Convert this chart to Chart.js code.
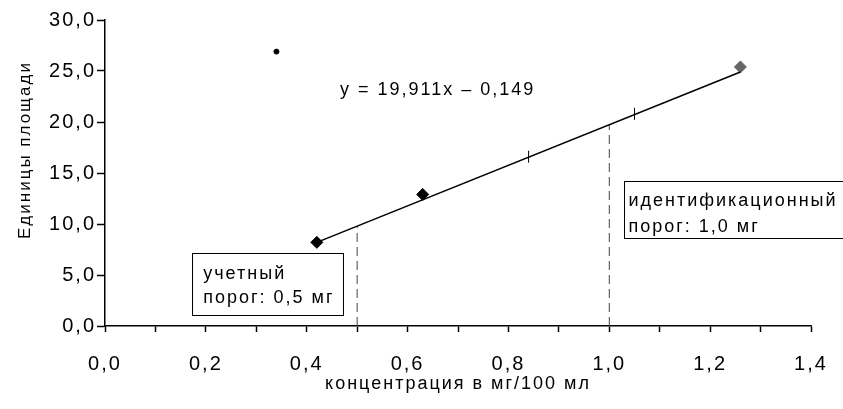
<!DOCTYPE html>
<html>
<head>
<meta charset="utf-8">
<script src="https://cdn.jsdelivr.net/npm/chart.js@4"></script>
<style>
  html, body { margin: 0; padding: 0; background: #fff; }
  #wrap { width: 843px; height: 409px; }
</style>
</head>
<body>
<div id="wrap"><canvas id="calibChart"></canvas></div>
<script>
// Данные калибровки
const pointsX = [0.42, 0.63, 1.26];
const pointsY = [8.2, 12.9, 25.4];
const pointColors = ['#000000', '#000000', '#666666'];

const outlierX = [0.34];
const outlierY = [26.9];

// концы линии тренда
const trendX = [0.42, 1.26];
const trendY = [8.2, 24.9];

// штрихи на линии тренда
const markX = [0.84, 1.05];
const markY = [16.6, 20.8];

// пороги (пунктир)
const thresholdX = [0.5, 1.0];
const thresholdY = [9.8, 19.7];

const yTicks = [0, 5, 10, 15, 20, 25, 30];

const equationText = 'y = 19,911x – 0,149';
const note1 = ['учетный', 'порог: 0,5 мг'];
const note2 = ['идентификационный', 'порог: 1,0 мг'];
const yTitle = 'Единицы площади';
const xTitle = 'концентрация в мг/100 мл';

const FONT = "'Liberation Sans', Arial, sans-serif";
const SPACING = '2px';

function toPoints(xs, ys) {
    return xs.map((x, i) => ({ x: x, y: ys[i] }));
}

function fmt(v) {
    return v.toFixed(1).replace('.', ',');
}

// разрядка текста как на скане
const spacingPlugin = {
    id: 'spacing',
    beforeUpdate(chart) { chart.ctx.letterSpacing = SPACING; },
    beforeLayout(chart) { chart.ctx.letterSpacing = SPACING; },
    beforeDraw(chart) { chart.ctx.letterSpacing = SPACING; }
};

// подписи и рамки
const notesPlugin = {
    id: 'notes',
    afterDatasetsDraw(chart) {
        const ctx = chart.ctx;
        const xs = chart.scales.x;
        const ys = chart.scales.y;
        ctx.save();
        ctx.letterSpacing = SPACING;
        ctx.fillStyle = '#000';
        ctx.strokeStyle = '#000';
        ctx.lineWidth = 1;
        ctx.textBaseline = 'middle';
        ctx.textAlign = 'left';

        // уравнение
        ctx.font = '18px ' + FONT;
        ctx.fillText(equationText, xs.getPixelForValue(0.466), ys.getPixelForValue(23.1));

        // рамка 1
        let l = xs.getPixelForValue(0.173), t = ys.getPixelForValue(7.16);
        let r = xs.getPixelForValue(0.472), b = ys.getPixelForValue(1.08);
        ctx.fillStyle = '#fff';
        ctx.fillRect(l, t, r - l, b - t);
        ctx.strokeRect(Math.round(l) + 0.5, Math.round(t) + 0.5, Math.round(r - l), Math.round(b - t));
        ctx.fillStyle = '#000';
        ctx.font = '18px ' + FONT;
        ctx.fillText(note1[0], l + 11, t + 21);
        ctx.fillText(note1[1], l + 11, t + 45);

        // рамка 2
        l = xs.getPixelForValue(1.03); t = ys.getPixelForValue(14.2);
        b = ys.getPixelForValue(8.6);
        r = chart.width + 20;
        ctx.fillStyle = '#fff';
        ctx.fillRect(l, t, r - l, b - t);
        ctx.strokeRect(Math.round(l) + 0.5, Math.round(t) + 0.5, Math.round(r - l), Math.round(b - t));
        ctx.fillStyle = '#000';
        ctx.font = '18px ' + FONT;
        ctx.fillText(note2[0], l + 4, t + 20);
        ctx.fillText(note2[1], l + 4, t + 46);

        // подпись оси Y
        ctx.font = '17px ' + FONT;
        ctx.translate(25, 150);
        ctx.rotate(-Math.PI / 2);
        ctx.textAlign = 'center';
        ctx.fillText(yTitle, 0, 0);
        ctx.restore();
    }
};

const ctx = document.getElementById('calibChart').getContext('2d');

const datasets = [
    {
        label: 'тренд',
        data: toPoints(trendX, trendY),
        showLine: true,
        borderColor: '#000',
        borderWidth: 1.5,
        pointRadius: 0
    },
    {
        label: 'штрихи',
        data: toPoints(markX, markY),
        showLine: false,
        pointStyle: 'line',
        rotation: 90,
        pointRadius: 6,
        borderColor: '#000',
        borderWidth: 1
    },
    {
        label: 'измерения',
        data: toPoints(pointsX, pointsY),
        showLine: false,
        pointStyle: 'rectRot',
        pointRadius: 6,
        pointBackgroundColor: pointColors,
        pointBorderColor: pointColors,
        borderWidth: 1
    },
    {
        label: 'выброс',
        data: toPoints(outlierX, outlierY),
        showLine: false,
        pointStyle: 'circle',
        pointRadius: 2.5,
        pointBackgroundColor: '#000',
        pointBorderColor: '#000'
    }
];

thresholdX.forEach((x, i) => {
    datasets.push({
        label: 'порог ' + x,
        data: [{ x: x, y: 0 }, { x: x, y: thresholdY[i] }],
        showLine: true,
        borderColor: '#444',
        borderWidth: 1,
        borderDash: [9, 5],
        pointRadius: 0
    });
});

new Chart(ctx, {
    type: 'scatter',
    data: { datasets: datasets },
    options: {
        responsive: true,
        maintainAspectRatio: false,
        animation: false,
        layout: {
            padding: { left: 0, right: 32, top: 20, bottom: 0 }
        },
        plugins: {
            legend: { display: false },
            tooltip: { enabled: false }
        },
        scales: {
            x: {
                type: 'linear',
                min: 0,
                max: 1.4,
                afterFit: function(scale) {
                    scale.height = 83;
                    scale.paddingLeft = 0;
                    scale.paddingRight = 0;
                },
                border: { display: true, color: '#000', width: 1.5 },
                grid: {
                    drawOnChartArea: false,
                    drawTicks: true,
                    tickLength: 6,
                    tickColor: '#000',
                    tickWidth: 1.5
                },
                ticks: {
                    stepSize: 0.1,
                    padding: 20,
                    color: '#000',
                    maxRotation: 0,
                    autoSkip: false,
                    font: { family: FONT, size: 20 },
                    callback: function(value) {
                        return Math.round(value * 10) % 2 === 0 ? fmt(value) : '';
                    }
                },
                title: {
                    display: true,
                    text: xTitle,
                    color: '#000',
                    font: { family: FONT, size: 18 },
                    padding: { top: 0, bottom: 14 }
                }
            },
            y: {
                type: 'linear',
                min: 0,
                max: 30,
                afterFit: function(scale) {
                    scale.width = 105;
                    scale.paddingTop = 0;
                    scale.paddingBottom = 0;
                },
                afterBuildTicks: function(scale) {
                    scale.ticks = yTicks.map(v => ({ value: v }));
                },
                border: { display: true, color: '#000', width: 1.5 },
                grid: {
                    drawOnChartArea: false,
                    drawTicks: true,
                    tickLength: 8,
                    tickColor: '#000',
                    tickWidth: 1.5
                },
                ticks: {
                    padding: 1,
                    color: '#000',
                    font: { family: FONT, size: 20 },
                    callback: function(value) { return fmt(value); }
                }
            }
        }
    },
    plugins: [spacingPlugin, notesPlugin]
});
</script>
</body>
</html>
